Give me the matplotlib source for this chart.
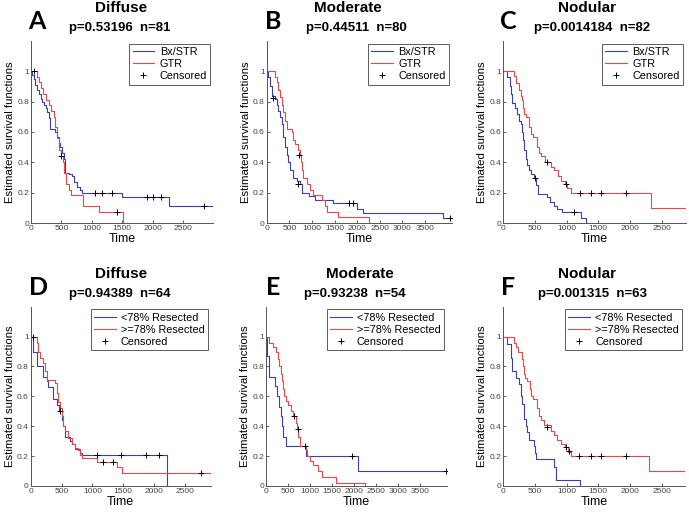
import matplotlib
matplotlib.use("Agg")
import matplotlib.pyplot as plt
from matplotlib.lines import Line2D

plt.rcParams['font.family'] = ['Liberation Sans', 'DejaVu Sans']

# ---- data (time, survival) ----
# A: Diffuse, Bx/STR vs GTR
a_blue_t = [0, 20, 45, 70, 100, 130, 160, 180, 210, 240, 262, 289, 317, 398, 426, 455, 480, 510, 535, 562, 620, 671, 699, 753, 797, 835, 1490, 2270, 2990]
a_blue_s = [1, 0.975, 0.95, 0.91, 0.88, 0.85, 0.82, 0.80, 0.78, 0.76, 0.73, 0.69, 0.62, 0.60, 0.57, 0.53, 0.50, 0.46, 0.42, 0.33, 0.32, 0.31, 0.27, 0.24, 0.22, 0.20, 0.17, 0.11, 0]
a_red_t = [0, 100, 130, 170, 200, 240, 290, 330, 370, 400, 430, 460, 490, 520, 550, 580, 620, 650, 850, 1110, 1517]
a_red_s = [1, 0.96, 0.93, 0.89, 0.85, 0.81, 0.78, 0.74, 0.70, 0.63, 0.56, 0.48, 0.44, 0.40, 0.33, 0.26, 0.22, 0.185, 0.11, 0.074, 0]
a_cens_t = [44, 491, 1420, 1053, 1163, 1326, 1900, 1998, 2134, 2844]
a_cens_s = [1.0, 0.44, 0.074, 0.2, 0.2, 0.2, 0.17, 0.17, 0.17, 0.11]

# B: Moderate, Bx/STR vs GTR
b_blue_t = [0, 37, 74, 111, 185, 222, 259, 296, 333, 370, 407, 444, 481, 518, 592, 666, 740, 777, 925, 1070, 1474, 1990, 2137, 3900, 4090]
b_blue_s = [1, 0.96, 0.90, 0.84, 0.82, 0.78, 0.74, 0.70, 0.65, 0.57, 0.50, 0.45, 0.40, 0.35, 0.30, 0.28, 0.26, 0.20, 0.18, 0.15, 0.13, 0.09, 0.065, 0.03, 0.03]
b_red_t = [0, 184, 221, 258, 295, 332, 368, 405, 442, 553, 590, 626, 700, 737, 752, 774, 811, 884, 958, 1032, 1216, 1290, 1326, 1584, 2270]
b_red_s = [1, 0.96, 0.93, 0.88, 0.83, 0.78, 0.73, 0.67, 0.62, 0.60, 0.55, 0.52, 0.48, 0.45, 0.40, 0.35, 0.30, 0.26, 0.22, 0.185, 0.15, 0.11, 0.075, 0.037, 0]
b_cens_t = [148, 703, 720, 1813, 1910, 4060]
b_cens_s = [0.825, 0.26, 0.45, 0.13, 0.13, 0.03]

# C: Nodular, Bx/STR vs GTR
c_blue_t = [0, 53, 100, 116, 142, 184, 221, 247, 274, 300, 311, 326, 353, 379, 405, 432, 484, 521, 547, 695, 732, 800, 853, 932, 1221, 1300]
c_blue_s = [1, 0.96, 0.90, 0.85, 0.79, 0.76, 0.72, 0.67, 0.65, 0.60, 0.55, 0.48, 0.42, 0.38, 0.35, 0.32, 0.295, 0.25, 0.19, 0.17, 0.14, 0.11, 0.09, 0.07, 0.035, 0]
c_red_t = [0, 168, 195, 247, 274, 300, 311, 326, 353, 405, 432, 468, 537, 563, 589, 658, 747, 800, 868, 905, 974, 1011, 1063, 2326, 2879]
c_red_s = [1, 0.97, 0.92, 0.88, 0.84, 0.81, 0.76, 0.72, 0.70, 0.63, 0.59, 0.57, 0.50, 0.46, 0.44, 0.40, 0.37, 0.35, 0.31, 0.28, 0.26, 0.23, 0.195, 0.097, 0]
c_cens_t = [500, 1116, 695, 984, 1211, 1379, 1537, 1932]
c_cens_s = [0.295, 0.07, 0.40, 0.26, 0.195, 0.195, 0.195, 0.195]

# D: Diffuse, <78% vs >=78% resected
d_blue_t = [0, 43, 97, 205, 259, 286, 367, 432, 464, 502, 529, 556, 637, 664, 718, 799, 826, 2214]
d_blue_s = [1, 0.90, 0.80, 0.73, 0.70, 0.66, 0.58, 0.54, 0.50, 0.44, 0.40, 0.33, 0.30, 0.28, 0.25, 0.22, 0.21, 0]
d_red_t = [0, 97, 124, 151, 205, 232, 259, 394, 421, 448, 475, 502, 529, 556, 610, 664, 718, 772, 799, 826, 1069, 1393, 1474, 2916]
d_red_s = [1, 0.96, 0.90, 0.86, 0.82, 0.77, 0.71, 0.69, 0.62, 0.56, 0.52, 0.47, 0.40, 0.37, 0.32, 0.28, 0.255, 0.24, 0.21, 0.185, 0.16, 0.13, 0.085, 0]
d_cens_t = [43, 475, 1069, 1458, 1863, 2079, 1166, 1339, 2765]
d_cens_s = [1.0, 0.50, 0.21, 0.21, 0.21, 0.21, 0.16, 0.16, 0.085]

# E: Moderate, <78% vs >=78% resected
e_blue_t = [0, 15, 76, 205, 258, 303, 333, 356, 394, 455, 909, 2098, 4100]
e_blue_s = [1, 0.87, 0.73, 0.67, 0.60, 0.53, 0.47, 0.40, 0.33, 0.265, 0.20, 0.10, 0.10]
e_red_t = [0, 76, 167, 227, 265, 303, 333, 356, 379, 409, 455, 508, 561, 621, 682, 697, 735, 773, 909, 939, 1000, 1076, 1189, 1265, 1591, 2250]
e_red_s = [1, 0.96, 0.93, 0.90, 0.85, 0.80, 0.75, 0.70, 0.65, 0.60, 0.57, 0.54, 0.50, 0.47, 0.42, 0.38, 0.33, 0.27, 0.24, 0.20, 0.17, 0.14, 0.10, 0.06, 0.02, 0]
e_cens_t = [880, 1947, 4090, 644, 720]
e_cens_s = [0.265, 0.20, 0.10, 0.47, 0.38]

# F: Nodular, <78% vs >=78% resected
f_blue_t = [0, 53, 116, 142, 195, 247, 274, 300, 326, 353, 379, 405, 484, 500, 521, 800, 826, 837, 1205]
f_blue_s = [1, 0.95, 0.86, 0.77, 0.72, 0.68, 0.60, 0.55, 0.45, 0.40, 0.36, 0.31, 0.27, 0.22, 0.18, 0.13, 0.09, 0.04, 0]
f_red_t = [0, 168, 195, 237, 289, 311, 326, 342, 379, 416, 432, 468, 537, 563, 589, 642, 747, 800, 853, 905, 974, 1026, 1063, 2300, 2868]
f_red_s = [1, 0.96, 0.93, 0.90, 0.85, 0.80, 0.75, 0.72, 0.70, 0.65, 0.60, 0.58, 0.52, 0.47, 0.44, 0.41, 0.37, 0.34, 0.31, 0.28, 0.26, 0.23, 0.20, 0.10, 0]
f_cens_t = [695, 984, 1037, 1195, 1379, 1537, 1932]
f_cens_s = [0.395, 0.26, 0.233, 0.2, 0.2, 0.2, 0.2]

letters = ['A', 'B', 'C', 'D', 'E', 'F']
titles = ['Diffuse', 'Moderate', 'Nodular', 'Diffuse', 'Moderate', 'Nodular']
stats = ['p=0.53196  n=81', 'p=0.44511  n=80', 'p=0.0014184  n=82',
         'p=0.94389  n=64', 'p=0.93238  n=54', 'p=0.001315  n=63']
legend_top = ['Bx/STR', 'GTR', 'Censored']
legend_bot = ['<78% Resected', '>=78% Resected', 'Censored']
xmax = [2990, 4090, 2880, 2916, 4100, 2868]

curves = [
    (a_blue_t, a_blue_s, a_red_t, a_red_s, a_cens_t, a_cens_s),
    (b_blue_t, b_blue_s, b_red_t, b_red_s, b_cens_t, b_cens_s),
    (c_blue_t, c_blue_s, c_red_t, c_red_s, c_cens_t, c_cens_s),
    (d_blue_t, d_blue_s, d_red_t, d_red_s, d_cens_t, d_cens_s),
    (e_blue_t, e_blue_s, e_red_t, e_red_s, e_cens_t, e_cens_s),
    (f_blue_t, f_blue_s, f_red_t, f_red_s, f_cens_t, f_cens_s),
]

# layout in pixels: left, top, right, bottom of each axes
W, H = 689, 512
boxes = [(31, 41, 213, 223), (266.7, 41, 451.7, 223), (503.3, 41, 685.7, 223),
         (30.7, 306.7, 210.7, 486), (266, 306.7, 446.7, 486), (503.3, 306.7, 685, 486)]
title_x = [120.7, 348.3, 587.3, 120.7, 360, 587.3]
stat_x = [120, 356, 592.3, 120, 355, 592.3]
letter_x = [28, 265, 500, 29, 266, 501]

blue = '#3c3cb4'
red = '#e8484a'

fig = plt.figure(figsize=(W / 100, H / 100), dpi=100)

for i in range(6):
    l, t, r, b = boxes[i]
    ax = fig.add_axes([l / W, 1 - b / H, (r - l) / W, (b - t) / H])
    bt, bs, rt, rs, ct, cs = curves[i]
    ax.step(bt, bs, where='post', color=blue, lw=0.8)
    ax.step(rt, rs, where='post', color=red, lw=0.8)
    ax.plot(ct, cs, '+', color='black', ms=5, mew=0.7)

    ax.set_xlim(0, xmax[i])
    ax.set_ylim(0, 1.2)
    if xmax[i] > 3500:
        ax.set_xticks([0, 500, 1000, 1500, 2000, 2500, 3000, 3500])
    else:
        ax.set_xticks([0, 500, 1000, 1500, 2000, 2500])
    ax.set_yticks([0, 0.2, 0.4, 0.6, 0.8, 1.0])
    ax.set_yticklabels(['0', '0.2', '0.4', '0.6', '0.8', '1'])
    ax.tick_params(direction='in', length=2.5, width=0.6, labelsize=6, pad=1.5,
                   colors='#444444')
    for sp in ['top', 'right']:
        ax.spines[sp].set_visible(False)
    for sp in ['left', 'bottom']:
        ax.spines[sp].set_linewidth(0.7)
        ax.spines[sp].set_color('#555555')
    ax.set_xlabel('Time', fontsize=9, labelpad=0.5)
    ax.set_ylabel('Estimated survival functions', fontsize=8.2, labelpad=1.5)

    labels = legend_top if i < 3 else legend_bot
    handles = [Line2D([], [], color=blue, lw=0.8),
               Line2D([], [], color=red, lw=0.8),
               Line2D([], [], ls='none', marker='+', color='black', ms=5, mew=0.7)]
    leg = ax.legend(handles, labels, loc='upper right', fontsize=7.8, fancybox=False,
                    borderpad=0.3, labelspacing=0.2, handlelength=2.0,
                    handletextpad=0.5, borderaxespad=0.25)
    leg.get_frame().set_edgecolor('#333333')
    leg.get_frame().set_linewidth(0.7)

    row_y = 8.3 if i < 3 else 274.3
    fig.text(title_x[i] / W, 1 - row_y / H, titles[i], ha='center', va='center',
             fontsize=11, fontweight='bold')
    fig.text(stat_x[i] / W, 1 - (row_y + 20) / H, stats[i], ha='center', va='center',
             fontsize=9.5, fontweight='bold')
    fig.text(letter_x[i] / W, 1 - (row_y + 13.5) / H, letters[i], ha='left', va='center',
             fontsize=18, fontweight='bold', family=['Lato', 'DejaVu Sans'])

fig.savefig('out.png', dpi=100)
